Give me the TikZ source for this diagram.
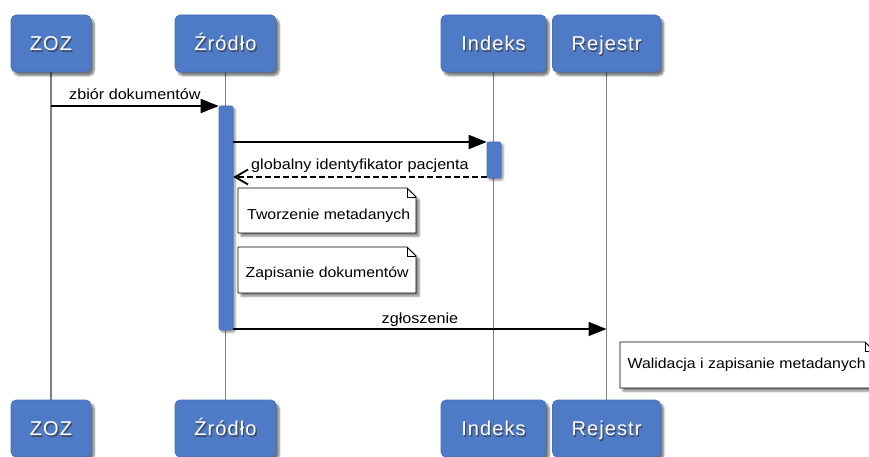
\documentclass[tikz,border=0pt]{standalone}
\usepackage{fontspec}
\setmainfont{Liberation Sans}
\newfontfamily\headfont[LetterSpace=5.5]{Liberation Sans}
\newfontfamily\msgfont[FakeStretch=1.1]{Liberation Sans}
\usetikzlibrary{arrows.meta,shadows.blur,calc}

\definecolor{partblue}{HTML}{4F7AC5}
\definecolor{partedge}{HTML}{4470BA}
\definecolor{lifegray}{HTML}{808080}
\definecolor{txtshade}{HTML}{1E2C4E}

% white caption with a soft dark drop shadow
\newcommand\shadedlabel[1]{\rlap{\kern1.3pt\raisebox{-1.5pt}{\textcolor{txtshade!85}{#1}}}\textcolor{white}{#1}}

% note with a folded top-right corner: x1,y1,x2,y2
\newcommand\dognote[4]{%
  \path[noteshape] (#1,#2) -- (#3-9,#2) -- (#3,#2+9) -- (#3,#4) -- (#1,#4) -- cycle;
  \draw[notefold] (#3-9,#2) -- (#3-9,#2+9) -- (#3,#2+9);}

\tikzset{
  participant/.style={rounded corners=5pt, fill=partblue, draw=partedge, line width=0.6pt,
    minimum height=57pt, inner sep=0pt, text height=14.3pt, text depth=0pt,
    font=\headfont\fontsize{20}{24}\selectfont,
    blur shadow={shadow xshift=3pt, shadow yshift=-3.5pt, shadow blur steps=6, shadow opacity=55}},
  actbar/.style={rounded corners=2pt, fill=partblue, draw=partedge, line width=0.6pt,
    minimum width=14pt, inner sep=0pt,
    blur shadow={shadow xshift=2pt, shadow yshift=-2pt, shadow blur steps=4, shadow opacity=45}},
  lifeline/.style={draw=lifegray, line width=1.5pt},
  msg/.style={draw=black, line width=1.8pt, -{Triangle[length=18pt,width=14pt]}},
  ret/.style={draw=black, line width=1.8pt, dash pattern=on 6pt off 3pt,
    -{Straight Barb[length=13pt,width=15pt,line width=1.8pt]}},
  msglabel/.style={anchor=base, inner sep=0pt, font=\msgfont\fontsize{14.7}{17}\selectfont},
  noteshape/.style={fill=white, draw=black, line width=0.8pt,
    blur shadow={shadow xshift=3pt, shadow yshift=-3pt, shadow blur steps=5, shadow opacity=50}},
  notefold/.style={draw=black, line width=0.6pt},
  notetext/.style={anchor=base west, inner sep=0pt, font=\msgfont\fontsize{14.4}{17}\selectfont},
}

\begin{document}
\begin{tikzpicture}[x=1pt,y=-1pt]
\useasboundingbox (0,0) rectangle (869,457);
\clip (0,0) rectangle (869,457);

% lifelines, drawn first so that boxes and bars cover them
\coordinate (zozTop) at (51,72);     \coordinate (zozBot) at (51,400);
\coordinate (zrTop)  at (225.5,72);  \coordinate (zrBot)  at (225.5,400);
\coordinate (idxTop) at (493.5,72);  \coordinate (idxBot) at (493.5,400);
\coordinate (rejTop) at (606.5,72);  \coordinate (rejBot) at (606.5,400);
\draw[lifeline] (zozTop) -- (zozBot);
\draw[lifeline] (zrTop)  -- (zrBot);
\draw[lifeline] (idxTop) -- (idxBot);
\draw[lifeline] (rejTop) -- (rejBot);

% participants, top and bottom
\node[participant, minimum width=80pt]  (zozT) at (51,43.5)    {\shadedlabel{ZOZ}};
\node[participant, minimum width=101pt] (zrT)  at (225.5,43.5) {\shadedlabel{Źródło}};
\node[participant, minimum width=105pt] (idxT) at (493.5,43.5) {\shadedlabel{Indeks}};
\node[participant, minimum width=108pt] (rejT) at (606.5,43.5) {\shadedlabel{Rejestr}};

\node[participant, minimum width=80pt]  (zozB) at (51,428.5)    {\shadedlabel{ZOZ}};
\node[participant, minimum width=101pt] (zrB)  at (225.5,428.5) {\shadedlabel{Źródło}};
\node[participant, minimum width=105pt] (idxB) at (493.5,428.5) {\shadedlabel{Indeks}};
\node[participant, minimum width=108pt] (rejB) at (606.5,428.5) {\shadedlabel{Rejestr}};

% activation bars
\node[actbar, minimum height=224pt] (barZ) at (226,218) {};
\node[actbar, minimum height=36pt]  (barI) at (494,160) {};

% message rows
\coordinate (r1) at (0,106);
\coordinate (r2) at (0,142);
\coordinate (r3) at (0,177);
\coordinate (r4) at (0,329);

\draw[msg] (zozTop |- r1) -- node[msglabel, yshift=6pt] {zbiór dokumentów} (barZ.west |- r1);
\draw[msg] (barZ.east |- r2) -- (barI.west |- r2);
\draw[ret] (barI.west |- r3) -- node[msglabel, yshift=7pt] {globalny identyfikator pacjenta} (barZ.east |- r3);
\draw[msg] (barZ.east |- r4) -- node[msglabel, yshift=6pt] {zgłoszenie} (rejTop |- r4);

% notes
\dognote{238}{188}{416}{233}
\node[notetext] (note1) at (247,219.5) {Tworzenie metadanych};
\dognote{238}{247}{416}{293}
\node[notetext] (note2) at (245.5,277) {Zapisanie dokumentów};
\dognote{620}{342}{874}{388}
\node[notetext] (note3) at (627.5,368) {Walidacja i zapisanie metadanych};
\end{tikzpicture}
\end{document}
